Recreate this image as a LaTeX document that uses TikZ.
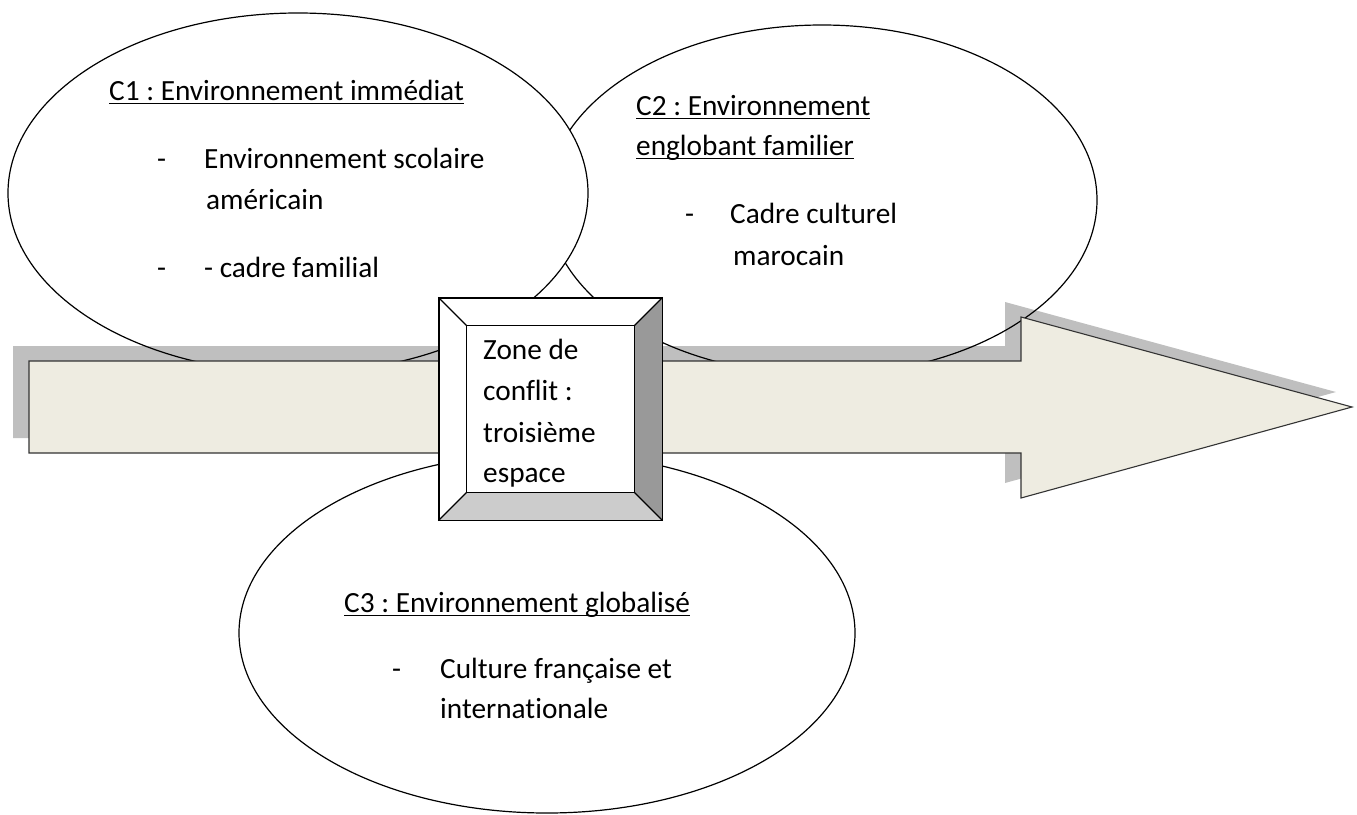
\documentclass[tikz,border=0pt]{standalone}
\usepackage{fontspec}
\setmainfont[Ligatures=NoCommon]{Carlito}
\usetikzlibrary{shapes.geometric}
\definecolor{fondfleche}{HTML}{EEECE1}
\definecolor{bordfleche}{HTML}{333333}
\newcommand{\souligne}[1]{{\setbox0\hbox{#1}\rlap{\rule[-4pt]{\wd0}{1.4pt}}\box0}}
\frenchspacing

\begin{document}
\begin{tikzpicture}
	[x=1pt,y=-1pt,
	cercle/.style={ellipse,draw,line width=1.2pt,fill=white,inner sep=0pt},
	texte/.style={anchor=base west,inner sep=0pt,font=\fontsize{29.3}{35}\selectfont},
	ombre/.style={fill=black,fill opacity=0.25},
	fleche/.style={draw=bordfleche,line width=1.1pt,fill=fondfleche,line join=miter}]
	\useasboundingbox (0,0) rectangle (1357,814);
	% les trois environnements
	\node at (547,633) [cercle,minimum width=616pt,minimum height=360pt] (c3) {};
	\node at (822,200) [cercle,minimum width=550pt,minimum height=350pt] (c2) {};
	\node at (298,193) [cercle,minimum width=580pt,minimum height=360pt] (c1) {};
	% la fleche et son ombre
	\fill [ombre] (13,346) -- (1005,346) -- (1005,302) -- (1336,392) -- (1005,483) -- (1005,438) -- (13,438) -- cycle;
	\draw [fleche] (29,361) -- (1021,361) -- (1021,317) -- (1352,407) -- (1021,498) -- (1021,453) -- (29,453) -- cycle;
	% zone de conflit
	\node at (550.5,409) [draw,line width=1.2pt,fill=white,minimum width=223pt,minimum height=222pt,inner sep=0pt] (zone) {};
	\node at (zone.center) [minimum width=167pt,minimum height=166pt,inner sep=0pt] (zonein) {};
	\fill [black!40] (zone.north east) -- (zone.south east) -- (zonein.south east) -- (zonein.north east) -- cycle;
	\fill [black!20] (zone.south west) -- (zone.south east) -- (zonein.south east) -- (zonein.south west) -- cycle;
	\draw [line width=1.2pt] (zone.north west) rectangle (zone.south east);
	\draw [line width=1.2pt] (zonein.north west) rectangle (zonein.south east);
	\draw [line width=1.2pt] (zone.north west) -- (zonein.north west);
	\draw [line width=1.2pt] (zone.north east) -- (zonein.north east);
	\draw [line width=1.2pt] (zone.south west) -- (zonein.south west);
	\draw [line width=1.2pt] (zone.south east) -- (zonein.south east);
	\node at (483,359) [texte] (zone1) {Zone de};
	\node at (483,400) [texte] (zone2) {conflit :};
	\node at (483,442) [texte] (zone3) {troisième};
	\node at (483,482) [texte] (zone4) {espace};
	% C1
	\node at (109,100) [texte] (c1titre) {\souligne{C1 : Environnement immédiat}};
	\node at (157,168) [texte] (c1tiret1) {-};
	\node at (204,168) [texte] (c1item1) {Environnement scolaire};
	\node at (206,209) [texte] (c1suite1) {américain};
	\node at (157,277) [texte] (c1tiret2) {-};
	\node at (204,277) [texte] (c1item2) {- cadre familial};
	% C2
	\node at (636,115) [texte] (c2titre1) {\souligne{C2 : Environnement}};
	\node at (636,155) [texte] (c2titre2) {\souligne{englobant familier}};
	\node at (685,223) [texte] (c2tiret) {-};
	\node at (730,223) [texte] (c2item) {Cadre culturel};
	\node at (733,265) [texte] (c2suite) {marocain};
	% C3
	\node at (344,612) [texte] (c3titre) {\souligne{C3 : Environnement globalisé}};
	\node at (392,678) [texte] (c3tiret) {-};
	\node at (440,678) [texte] (c3item) {Culture française et};
	\node at (440,718) [texte] (c3suite) {internationale};
\end{tikzpicture}
\end{document}
